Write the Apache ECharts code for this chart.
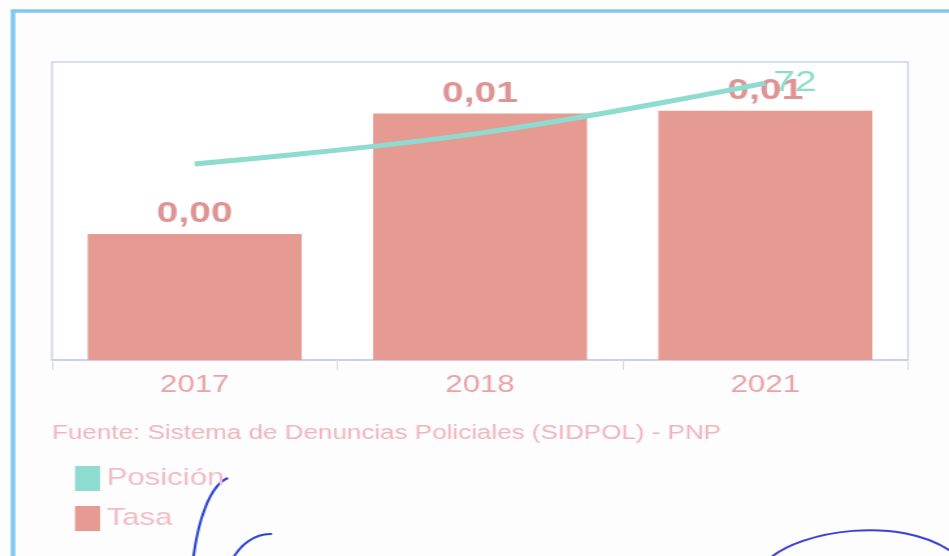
<!DOCTYPE html>
<html><head><meta charset="utf-8">
<script src="https://cdn.jsdelivr.net/npm/echarts@6/dist/echarts.min.js"></script>
<style>
html,body{margin:0;padding:0;background:#fdfdfd;overflow:hidden;width:949px;height:556px}
#c{width:730px;height:556px;transform:scaleX(1.3);transform-origin:0 0}
</style>
</head><body><div id="c"></div>
<script>
const categories = ['2017', '2018', '2021'];
const tasa = [0.0049, 0.0096, 0.0097];
const posicion = [51, 59, 72];
const sourceText = 'Fuente: Sistema de Denuncias Policiales (SIDPOL) - PNP';

// the scanned page is stretched horizontally; the container is scaled by S
const S = 1.3;
const X = v => v / S;

const chart = echarts.init(document.getElementById('c'));
const font = '"Liberation Sans", Arial, sans-serif';
const pen = '#2a44d8';
chart.setOption({
  backgroundColor: '#fdfdfd',
  animation: false,
  title: {
    text: sourceText, left: X(52), top: 423, padding: 0,
    textStyle: { color: '#f2b4bc', fontSize: 20, fontWeight: 'normal', fontFamily: font }
  },
  legend: {
    orient: 'vertical', left: X(75), top: 466, padding: 0, itemWidth: X(25), itemHeight: 25, itemGap: 15,
    icon: 'rect',
    data: [{name: 'Posición', itemStyle: {color: '#8edcd0'}}, {name: 'Tasa', itemStyle: {color: '#e59a92'}}],
    textStyle: { color: '#f2bcc4', fontSize: 24, fontFamily: font }
  },
  graphic: [
    { type: 'rect', shape: { x: X(13), y: 11, width: 800, height: 580 },
      style: { fill: null, stroke: '#80c8f0', lineWidth: 3.5 }, silent: true },
    { type: 'bezierCurve', shape: { x1: X(228), y1: 478, cpx1: X(210), cpy1: 485, cpx2: X(198), cpy2: 520, x2: X(193), y2: 560 },
      style: { stroke: pen, lineWidth: 2, fill: null }, silent: true },
    { type: 'bezierCurve', shape: { x1: X(272), y1: 534, cpx1: X(255), cpy1: 533, cpx2: X(240), cpy2: 545, x2: X(232), y2: 560 },
      style: { stroke: pen, lineWidth: 2, fill: null }, silent: true },
    { type: 'bezierCurve', shape: { x1: X(768), y1: 560, cpx1: X(800), cpy1: 530, cpx2: X(900), cpy2: 515, x2: X(952), y2: 552 },
      style: { stroke: '#3a40d8', lineWidth: 2, fill: null }, silent: true }
  ],
  grid: { left: X(52), top: 62, width: X(856), height: 298, show: true, borderColor: '#cdd0ec', borderWidth: 1.3, backgroundColor: '#ffffff' },
  xAxis: {
    type: 'category', data: categories,
    axisLine: { lineStyle: { color: '#c8cce8', width: 1.5 } },
    axisTick: { show: true, length: 10, lineStyle: { color: '#d8dae8' } },
    axisLabel: { color: '#eaa2aa', fontSize: 24, fontFamily: font, margin: 13 }
  },
  yAxis: [
    { type: 'value', min: 0, max: 0.0116, show: false, splitLine: { show: false } },
    { type: 'value', min: 0, max: 77.5, show: false, splitLine: { show: false } }
  ],
  series: [
    {
      name: 'Tasa', type: 'bar', data: tasa, barWidth: '75%', yAxisIndex: 0,
      itemStyle: { color: '#e59a92' },
      label: {
        show: true, position: 'top', distance: 5, color: '#df9494', fontSize: 30, fontWeight: 'bold', fontFamily: font,
        formatter: p => p.value.toFixed(2).replace('.', ',')
      }
    },
    {
      name: 'Posición', type: 'line', data: posicion, yAxisIndex: 1, smooth: 0.4,
      showSymbol: false, symbol: 'none',
      lineStyle: { color: '#8edcd0', width: 5 }, itemStyle: { color: '#8edcd0' },
      label: { show: false },
      endLabel: { show: true, color: '#8edcd0', fontSize: 30, fontFamily: font, offset: [-2, 0],
        formatter: p => String(p.value) }
    }
  ]
});
</script></body></html>
